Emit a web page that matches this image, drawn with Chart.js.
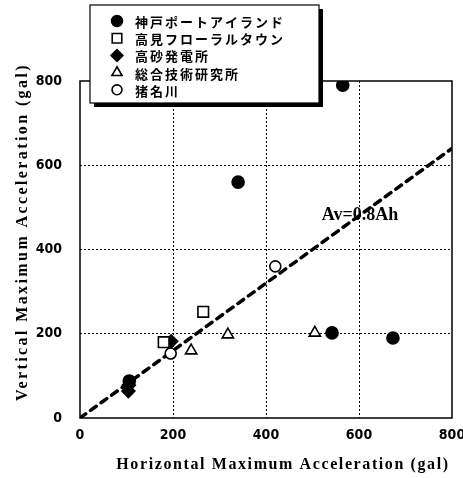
<!DOCTYPE html>
<html>
<head>
<meta charset="utf-8">
<script src="https://cdn.jsdelivr.net/npm/chart.js@4/dist/chart.umd.min.js"></script>
<style>
  html, body { margin: 0; background: #fff; }
  #wrap { width: 463px; height: 478px; }
</style>
</head>
<body>
<div id="wrap"><canvas id="chart"></canvas></div>
<script>
// site names (legend order)
const siteNames = ['神戸ポートアイランド', '高見フローラルタウン', '高砂発電所', '総合技術研究所', '猪名川'];

// horizontal / vertical max acceleration (gal)
const kobeH = [565, 340, 542, 673, 106];
const kobeV = [790, 560, 202, 190, 88];
const takamiH = [265, 180];
const takamiV = [252, 180];
const takasagoH = [196, 105, 104];
const takasagoV = [182, 78, 64];
const sogoH = [239, 318, 505];
const sogoV = [160, 198, 202];
const inagawaH = [420, 195];
const inagawaV = [360, 153];

// Av = 0.8 Ah reference line
const ratioH = [0, 800];
const ratioV = [0, 640];
const ratioLabel = 'Av=0.8Ah';

const tickValues = [0, 200, 400, 600, 800];
const xTitle = 'Horizontal Maximum Acceleration (gal)';
const yTitle = 'Vertical Maximum Acceleration (gal)';

const pts = (hs, vs) => hs.map((h, i) => ({ x: h, y: vs[i] }));

// marker styles, same order as siteNames
const markers = [
  { pointStyle: 'circle', radius: 6, bg: '#000' },
  { pointStyle: 'rect', radius: 7.5, bg: '#fff' },
  { pointStyle: 'rectRot', radius: 6.5, bg: '#000' },
  { pointStyle: 'triangle', radius: 6.5, bg: '#fff' },
  { pointStyle: 'circle', radius: 5.5, bg: '#fff' }
];
const siteData = [
  pts(kobeH, kobeV),
  pts(takamiH, takamiV),
  pts(takasagoH, takasagoV),
  pts(sogoH, sogoV),
  pts(inagawaH, inagawaV)
];

const datasets = siteNames.map((name, i) => ({
  label: name,
  data: siteData[i],
  showLine: false,
  pointStyle: markers[i].pointStyle,
  pointRadius: markers[i].radius,
  pointBackgroundColor: markers[i].bg,
  pointBorderColor: '#000',
  pointBorderWidth: 1.6,
  order: 1
}));

datasets.push({
  label: ratioLabel,
  data: pts(ratioH, ratioV),
  showLine: true,
  borderColor: '#000',
  borderWidth: 3.5,
  borderDash: [7, 6],
  borderCapStyle: 'round',
  pointRadius: 0,
  order: 5
});

const gridColor = ctx => (ctx.tick && (ctx.tick.value === 0 || ctx.tick.value === 800)) ? 'rgba(0,0,0,0)' : '#000';

// draws spaced text (canvas letterSpacing) centred on cx
function spacedText(ctx, text, cx, cy, spacing) {
  ctx.letterSpacing = spacing + 'px';
  const w = ctx.measureText(text).width;
  ctx.fillText(text, cx - w / 2, cy);
  ctx.letterSpacing = '0px';
}

const frame = {
  id: 'frame',
  afterDraw(chart) {
    const { ctx, chartArea: a, scales: { x, y } } = chart;
    ctx.save();
    ctx.fillStyle = '#000';
    ctx.strokeStyle = '#000';

    // plot border
    ctx.lineWidth = 1.5;
    ctx.strokeRect(a.left, a.top, a.right - a.left, a.bottom - a.top);

    // ratio label
    ctx.font = 'bold 18px "Liberation Serif", serif';
    ctx.textBaseline = 'alphabetic';
    ctx.textAlign = 'left';
    ctx.fillText(ratioLabel, x.getPixelForValue(520), y.getPixelForValue(470));

    // axis titles
    ctx.font = 'bold 16px "Liberation Serif", serif';
    ctx.textBaseline = 'middle';
    spacedText(ctx, xTitle, 283, 465, 1.6);
    ctx.save();
    ctx.translate(23, 232);
    ctx.rotate(-Math.PI / 2);
    spacedText(ctx, yTitle, 0, 0, 2.4);
    ctx.restore();

    // legend box with heavy shadow
    const L = 90, T = 5, R = 319, B = 103;
    ctx.fillRect(L + 4, T + 4, R - L, B - T);
    ctx.fillStyle = '#fff';
    ctx.fillRect(L, T, R - L, B - T);
    ctx.lineWidth = 1.2;
    ctx.strokeRect(L, T, R - L, B - T);

    ctx.font = 'bold 13px "Noto Sans CJK JP", sans-serif';
    ctx.textBaseline = 'middle';
    siteNames.forEach((name, i) => {
      const ry = 21 + i * 17.2;
      const m = markers[i];
      ctx.fillStyle = m.bg;
      ctx.strokeStyle = '#000';
      ctx.lineWidth = 1.6;
      Chart.helpers.drawPoint(ctx, { pointStyle: m.pointStyle, radius: m.radius * 0.9, rotation: 0, borderWidth: 1.6 }, 117, ry);
      ctx.fillStyle = '#000';
      ctx.letterSpacing = '2px';
      ctx.fillText(name, 135, ry + 1);
      ctx.letterSpacing = '0px';
    });
    ctx.restore();
  }
};

const tickFont = { family: '"Liberation Sans Narrow", "DejaVu Sans Condensed", sans-serif', size: 14, weight: 'bold' };

new Chart(document.getElementById('chart'), {
  type: 'scatter',
  data: { datasets },
  options: {
    responsive: true,
    maintainAspectRatio: false,
    animation: false,
    layout: { padding: { top: 81, right: 11, left: 0, bottom: 0 } },
    plugins: { legend: { display: false }, tooltip: { enabled: false } },
    scales: {
      x: {
        type: 'linear',
        min: 0,
        max: 800,
        afterBuildTicks: s => { s.ticks = tickValues.map(v => ({ value: v })); },
        afterFit: s => { s.height = 60; s.paddingLeft = 0; s.paddingRight = 0; },
        border: { display: false, dash: [2, 2] },
        grid: { color: gridColor, lineWidth: 1, drawTicks: false },
        ticks: { padding: 9, color: '#000', font: tickFont }
      },
      y: {
        type: 'linear',
        min: 0,
        max: 800,
        afterBuildTicks: s => { s.ticks = tickValues.map(v => ({ value: v })); },
        afterFit: s => { s.width = 80; s.paddingTop = 0; s.paddingBottom = 0; },
        border: { display: false, dash: [2, 2] },
        grid: { color: gridColor, lineWidth: 1, drawTicks: false },
        ticks: { padding: 18, color: '#000', font: tickFont }
      }
    }
  },
  plugins: [frame]
});
</script>
</body>
</html>
